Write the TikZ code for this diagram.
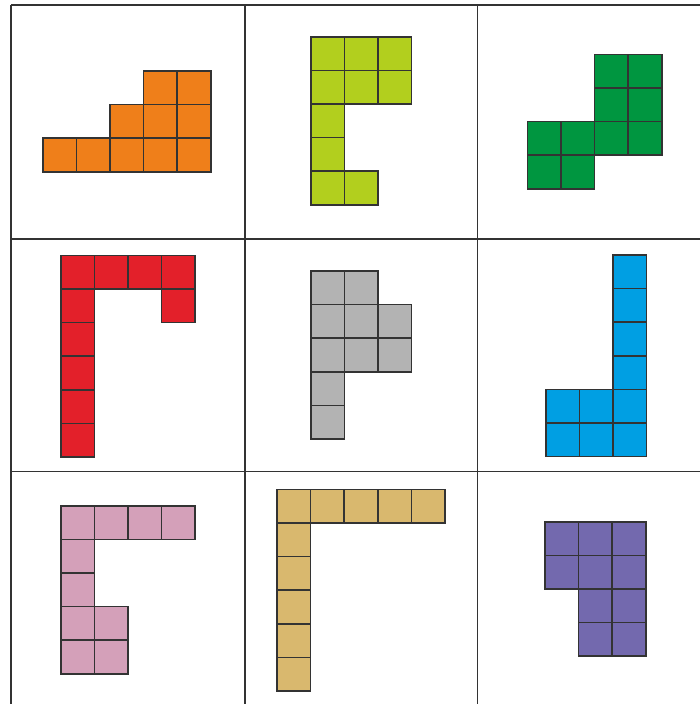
\documentclass[tikz,border=0pt]{standalone}
\definecolor{corange}{HTML}{EF7F1A}
\definecolor{clime}{HTML}{B2CF1E}
\definecolor{cgreen}{HTML}{009640}
\definecolor{cred}{HTML}{E3202A}
\definecolor{cgray}{HTML}{B3B3B3}
\definecolor{cblue}{HTML}{009FE3}
\definecolor{cpink}{HTML}{D4A0B9}
\definecolor{ctan}{HTML}{D9B86E}
\definecolor{cpurple}{HTML}{7369AE}
\definecolor{linegray}{HTML}{333333}
\newcommand\polyo[4]{%
  \foreach \c/\r in {#4} {%
    \filldraw[fill=#1, cellbox] ({#2+\c*33.6},{#3+\r*33.6}) rectangle +(33.6,33.6);
  }%
}
\begin{document}
\begin{tikzpicture}[x=1pt,y=-1pt,
  cellbox/.style={draw=linegray, line width=1.6pt, line join=miter},
  gridline/.style={draw=linegray, line width=1.6pt}]
\useasboundingbox (0,0) rectangle (700,704);
\fill[white] (0,0) rectangle (700,704);
% grid
\draw[gridline] (11,5) -- (11,704);
\draw[gridline] (245,5) -- (245,704);
\draw[gridline] (477.5,5) -- (477.5,704);
\draw[gridline] (11,5) -- (700,5);
\draw[gridline] (11,239) -- (700,239);
\draw[gridline] (11,471.5) -- (700,471.5);
% shapes
\polyo{corange}{42.7}{71}{3/0,4/0,2/1,3/1,4/1,0/2,1/2,2/2,3/2,4/2}
\polyo{clime}{310.7}{36.7}{0/0,1/0,2/0,0/1,1/1,2/1,0/2,0/3,0/4,1/4}
\polyo{cgreen}{527.3}{54.3}{2/0,3/0,2/1,3/1,2/2,3/2,0/2,1/2,0/3,1/3}
\polyo{cred}{60.7}{255.3}{0/0,1/0,2/0,3/0,3/1,0/1,0/2,0/3,0/4,0/5}
\polyo{cgray}{310.7}{271}{0/0,1/0,0/1,1/1,2/1,0/2,1/2,2/2,0/3,0/4}
\polyo{cblue}{545.7}{255}{2/0,2/1,2/2,2/3,2/4,2/5,0/4,1/4,0/5,1/5}
\polyo{cpink}{60.7}{505.7}{0/0,1/0,2/0,3/0,0/1,0/2,0/3,1/3,0/4,1/4}
\polyo{ctan}{277}{489.3}{0/0,1/0,2/0,3/0,4/0,0/1,0/2,0/3,0/4,0/5}
\polyo{cpurple}{545}{521.7}{0/0,1/0,2/0,0/1,1/1,2/1,1/2,2/2,1/3,2/3}
\end{tikzpicture}
\end{document}
